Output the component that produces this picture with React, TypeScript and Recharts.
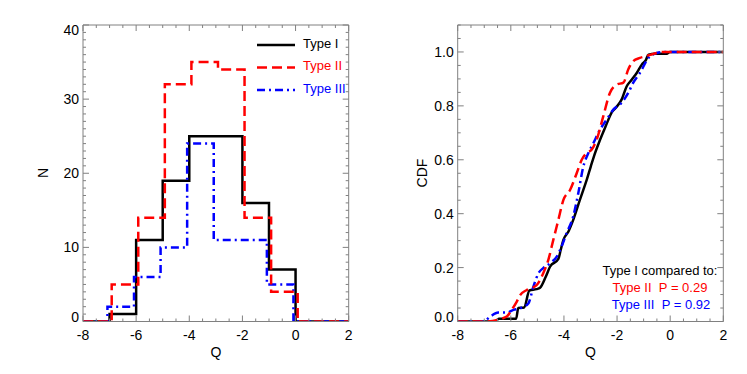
import { LineChart, Line, XAxis, YAxis, Customized } from "recharts";

// histogram bins (unit width) and counts per type
const binEdges = [-8, -7, -6, -5, -4, -3, -2, -1, 0, 1, 2];
const countsI = [0, 1, 11, 19, 25, 25, 16, 7, 0, 0];
const countsII = [0, 5, 14, 32, 35, 34, 14, 4, 0, 0];
const countsIII = [0, 2, 6, 10, 24, 11, 11, 5, 0, 0];

// cumulative distributions (Q, fraction)
const cdfIq = [-8, -6.6, -6.45, -5.8, -5.72, -5.5, -5.3, -5.03, -4.9, -4.68, -4.52, -4.21, -4.12, -4.02, -3.83, -3.65, -3.4, -3.27, -3.14, -2.99, -2.87, -2.64, -2.43, -2.2, -2.02, -1.83, -1.64, -1.45, -1.26, -1.07, -0.91, -0.82, -0.57, -0.13, -0.01, 2];
const cdfIf = [0, 0, 0.01, 0.01, 0.05, 0.052, 0.115, 0.12, 0.125, 0.167, 0.204, 0.232, 0.266, 0.303, 0.334, 0.377, 0.451, 0.488, 0.526, 0.575, 0.613, 0.674, 0.724, 0.776, 0.796, 0.823, 0.872, 0.897, 0.922, 0.953, 0.971, 0.99, 0.993, 0.993, 1, 1];
const cdfIIq = [-8, -6.91, -6.16, -5.97, -5.78, -5.65, -5.4, -5.03, -4.78, -4.59, -4.4, -4.21, -4.02, -3.77, -3.52, -3.33, -3.14, -2.96, -2.77, -2.52, -2.27, -2.01, -1.76, -1.58, -1.39, -1.14, -0.89, -0.51, -0.26, 2];
const cdfIIf = [0, 0, 0.018, 0.043, 0.073, 0.098, 0.117, 0.135, 0.179, 0.228, 0.303, 0.377, 0.451, 0.488, 0.55, 0.6, 0.625, 0.637, 0.674, 0.761, 0.848, 0.879, 0.886, 0.935, 0.966, 0.978, 0.985, 0.996, 1, 1];
const cdfIIIq = [-8, -7.03, -6.78, -6.47, -6.16, -5.9, -5.65, -5.34, -5.15, -4.96, -4.78, -4.52, -4.27, -4.09, -3.9, -3.65, -3.46, -3.27, -3.08, -2.89, -2.64, -2.39, -2.14, -1.83, -1.58, -1.39, -1.14, -0.82, -0.51, -0.26, 2];
const cdfIIIf = [0, 0, 0.018, 0.033, 0.033, 0.043, 0.049, 0.067, 0.129, 0.179, 0.198, 0.216, 0.241, 0.278, 0.328, 0.39, 0.476, 0.575, 0.625, 0.662, 0.712, 0.749, 0.786, 0.811, 0.848, 0.886, 0.922, 0.978, 0.996, 1, 1];

const typeNames = ["Type I", "Type II", "Type III"];
const pValues = ["0.29", "0.92"];

const xMajor = [-8, -6, -4, -2, 0, 2];
const nMajor = [0, 10, 20, 30, 40];
const cdfMajor = [0, 0.2, 0.4, 0.6, 0.8, 1.0];

const xTicks = Array.from({ length: 21 }, (_, i) => -8 + i * 0.5);
const nTicks = Array.from({ length: 41 }, (_, i) => i);
const cdfTicks = Array.from({ length: 23 }, (_, i) => +(i * 0.05).toFixed(2));

const FRAME = "#808080";
const FONT = "'Liberation Sans', Arial, Helvetica, sans-serif";
const colors = ["#000000", "#ff0000", "#0000ff"];
const dashes = [undefined, "10 5", "8 4 2 4"];
const shifts = [0, 0.08, -0.08];

const W = 747;
const H = 374;

const isIn = (arr: number[], v: number) => arr.some((m) => Math.abs(m - v) < 1e-6);

function stepData(counts: number[], shift: number) {
  return binEdges.map((e, i) => ({
    q: i === 0 || i === binEdges.length - 1 ? e : e + shift,
    v: i < counts.length ? counts[i] : 0,
  }));
}

function cdfData(qs: number[], fs: number[]) {
  return qs.map((q, i) => ({ q, v: fs[i] }));
}

const xTick = (side: "bottom" | "top") => (p: any) => {
  const v = p.payload.value;
  const major = isIn(xMajor, v);
  const len = major ? 6 : 3;
  const dir = side === "bottom" ? -1 : 1;
  return (
    <g>
      <line x1={p.x} x2={p.x} y1={p.y} y2={p.y + dir * len} stroke={FRAME} />
      {side === "bottom" && major && (
        <text x={p.x} y={p.y + 18.5} textAnchor="middle" fontSize={14} fontFamily={FONT} fill="#000">
          {v}
        </text>
      )}
    </g>
  );
};

const yTick = (side: "left" | "right", majors: number[], lo: number, hi: number, fmt: (v: number) => string) => (p: any) => {
  const v = p.payload.value;
  const major = isIn(majors, v);
  const len = major ? 6 : 3;
  const dir = side === "left" ? 1 : -1;
  let dy = 5;
  if (Math.abs(v - lo) < 1e-6) dy = 0;
  if (Math.abs(v - hi) < 1e-6) dy = 10;
  return (
    <g>
      <line x1={p.x} x2={p.x + dir * len} y1={p.y} y2={p.y} stroke={FRAME} />
      {side === "left" && major && (
        <text x={p.x - 4} y={p.y + dy} textAnchor="end" fontSize={14} fontFamily={FONT} fill="#000">
          {fmt(v)}
        </text>
      )}
    </g>
  );
};

function Frame({ yDomain, yTicks, majors, fmt }: { yDomain: [number, number]; yTicks: number[]; majors: number[]; fmt: (v: number) => string }) {
  return [
    <XAxis key="xb" xAxisId="b" type="number" dataKey="q" domain={[-8, 2]} ticks={xTicks} interval={0} height={1}
      allowDataOverflow tickSize={0} tickMargin={0} tickLine={false} axisLine={{ stroke: FRAME }} tick={xTick("bottom")} />,
    <XAxis key="xt" xAxisId="t" orientation="top" type="number" dataKey="q" domain={[-8, 2]} ticks={xTicks} interval={0} height={1}
      allowDataOverflow tickSize={0} tickMargin={0} tickLine={false} axisLine={{ stroke: FRAME }} tick={xTick("top")} />,
    <YAxis key="yl" yAxisId="l" type="number" domain={yDomain} ticks={yTicks} interval={0} width={1}
      allowDataOverflow tickSize={0} tickMargin={0} tickLine={false} axisLine={{ stroke: FRAME }}
      tick={yTick("left", majors, yDomain[0], yDomain[1], fmt)} />,
    <YAxis key="yr" yAxisId="r" orientation="right" type="number" domain={yDomain} ticks={yTicks} interval={0} width={1}
      allowDataOverflow tickSize={0} tickMargin={0} tickLine={false} axisLine={{ stroke: FRAME }}
      tick={yTick("right", majors, yDomain[0], yDomain[1], fmt)} />,
  ];
}

const drawOrder = [0, 2, 1];

function HistLegend() {
  return (
    <g fontFamily={FONT} fontSize={13}>
      {typeNames.map((name, i) => (
        <g key={name}>
          <line x1={257} x2={295} y1={45 + i * 22.5} y2={45 + i * 22.5} stroke={colors[i]} strokeWidth={2.5} strokeDasharray={dashes[i]} />
          <text x={303} y={47.5 + i * 22.5} fill={colors[i]}>{name}</text>
        </g>
      ))}
    </g>
  );
}

function Titles({ yTitle, yX }: { yTitle: string; yX: number }) {
  return (
    <g fontFamily={FONT} fontSize={14} fill="#000">
      <text x={yX} y={173} textAnchor="middle" transform={`rotate(-90 ${yX} 173)`} dominantBaseline="central">{yTitle}</text>
    </g>
  );
}

function CompareNote() {
  return (
    <g fontFamily={FONT} fontSize={13} textAnchor="middle">
      <text x={286} y={275} fill="#000">{typeNames[0]} compared to:</text>
      <text x={286} y={292} fill={colors[1]}>{typeNames[1]}{"\u00a0\u00a0"}P = {pValues[0]}</text>
      <text x={287} y={308.5} fill={colors[2]}>{typeNames[2]}{"\u00a0\u00a0"}P = {pValues[1]}</text>
    </g>
  );
}

export default function App() {
  const hist = [countsI, countsII, countsIII];
  const cdfs = [cdfData(cdfIq, cdfIf), cdfData(cdfIIq, cdfIIf), cdfData(cdfIIIq, cdfIIIf)];
  const fmtN = (v: number) => String(v);
  const fmtC = (v: number) => v.toFixed(1);
  return (
    <div style={{ position: "absolute", left: 0, top: 0, width: W, height: H, background: "#fff" }}>
      <div style={{ position: "absolute", left: 0, top: 0 }}>
        <LineChart width={374} height={H} margin={{ top: 24, right: 24.3, bottom: 51.5, left: 82 }}>
          {Frame({ yDomain: [0, 40], yTicks: nTicks, majors: nMajor, fmt: fmtN })}
          {drawOrder.map((i) => (
            <Line key={i} xAxisId="b" yAxisId="l" data={stepData(hist[i], shifts[i])} dataKey="v" type="stepAfter"
              stroke={colors[i]} strokeWidth={2.5} strokeDasharray={dashes[i]} dot={false} isAnimationActive={false} />
          ))}
          <Customized component={() => <HistLegend />} />
          <Customized component={() => <Titles yTitle="N" yX={42.5} />} />
          <Customized component={() => (
            <text x={216} y={357} textAnchor="middle" fontFamily={FONT} fontSize={14}>Q</text>
          )} />
        </LineChart>
      </div>
      <div style={{ position: "absolute", left: 374, top: 0 }}>
        <LineChart width={373} height={H} margin={{ top: 24, right: 22.7, bottom: 51.5, left: 82.7 }}>
          {Frame({ yDomain: [0, 1.1], yTicks: cdfTicks, majors: cdfMajor, fmt: fmtC })}
          {drawOrder.map((i) => (
            <Line key={i} xAxisId="b" yAxisId="l" data={cdfs[i]} dataKey="v" type="monotone"
              stroke={colors[i]} strokeWidth={2.5} strokeDasharray={dashes[i]} dot={false} isAnimationActive={false} />
          ))}
          <Customized component={() => <Titles yTitle="CDF" yX={48} />} />
          <Customized component={() => (
            <text x={216.5} y={357} textAnchor="middle" fontFamily={FONT} fontSize={14}>Q</text>
          )} />
          <Customized component={() => <CompareNote />} />
        </LineChart>
      </div>
    </div>
  );
}
